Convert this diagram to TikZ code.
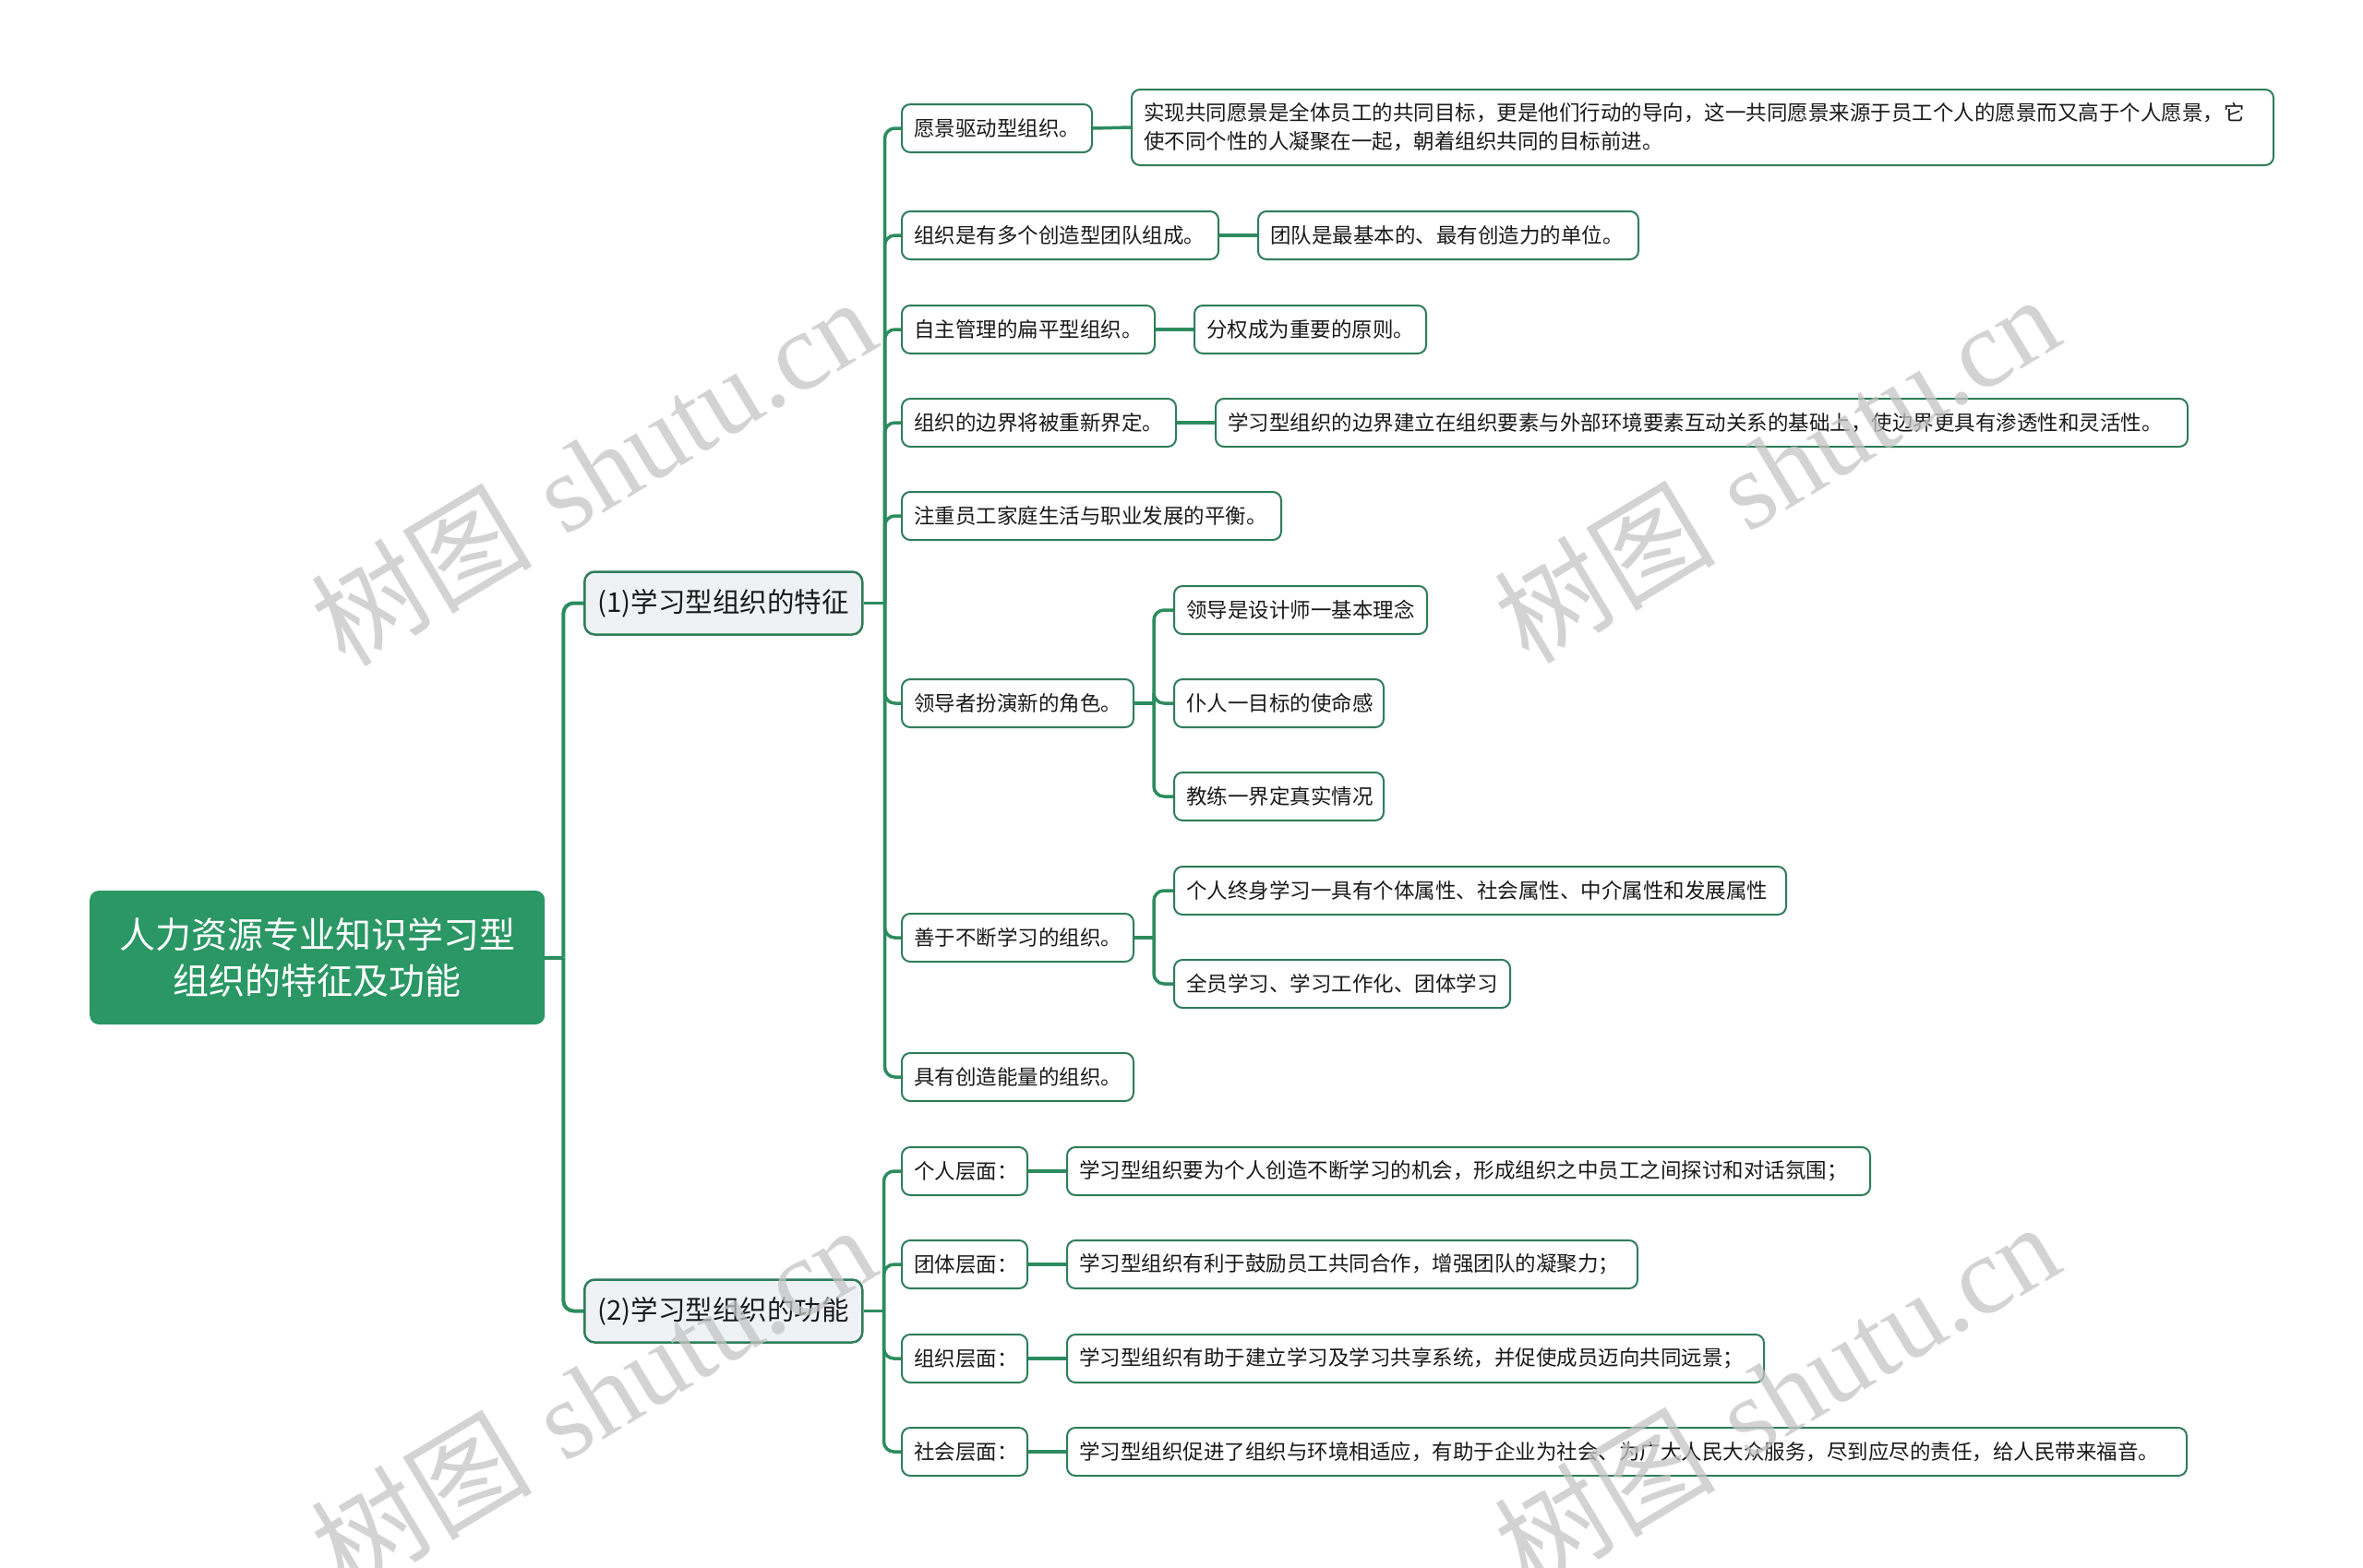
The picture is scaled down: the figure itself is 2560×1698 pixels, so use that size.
\documentclass[tikz,border=0pt]{standalone}
\usepackage{fontspec}
\newfontfamily\cjk{Noto Sans CJK SC}
\newfontfamily\wmserif{Liberation Serif}
\usetikzlibrary{calc}
\definecolor{rootc}{HTML}{2A9764}
\definecolor{linec}{HTML}{2C8C5F}
\definecolor{bordc}{HTML}{2F7D59}
\definecolor{lonefill}{HTML}{EEF2F5}
\definecolor{txtc}{HTML}{1A1A1A}
\definecolor{wmc}{HTML}{C4C4C4}
\newcommand\fixw[2]{\makebox[#1pt][l]{#2}}
\tikzset{
  box/.style={draw=bordc, line width=2pt, rounded corners=9pt, fill=white,
    font=\cjk\fontsize{22.5}{31}\selectfont, text=txtc, inner xsep=13pt,
    inner ysep=0pt, minimum height=52pt, anchor=west},
  lone/.style={draw=bordc, line width=2.5pt, rounded corners=11pt, fill=lonefill,
    font=\cjk\fontsize{29.5}{36}\selectfont, text=txtc, inner sep=0pt,
    minimum width=301pt, minimum height=68pt, anchor=west},
  rootbox/.style={fill=rootc, rounded corners=10pt, text=white, align=center,
    font=\cjk\fontsize{39}{50}\selectfont, inner sep=0pt,
    minimum width=493pt, minimum height=145pt, anchor=west},
  conn/.style={draw=linec, line width=3.5pt, rounded corners=11pt},
  wm/.style={text=wmc, opacity=0.75, font=\fontsize{120}{120}\selectfont, inner sep=0pt},
}
\begin{document}
\begin{tikzpicture}[x=1pt,y=-1pt]
\useasboundingbox (0,0) rectangle (2560,1698);

% root and level 1
\node[rootbox] (root) at (97,1037.5) {人力资源专业知识学习型\\组织的特征及功能};
\node[lone] (f) at (632,653.5) {(1)学习型组织的特征};
\node[lone] (g) at (632,1420.5) {(2)学习型组织的功能};

% level 2 under (1)
\node[box] (a1) at (976,139) {\fixw{180}{愿景驱动型组织。}};
\node[box] (a2) at (976,255) {\fixw{317}{组织是有多个创造型团队组成。}};
\node[box] (a3) at (976,357) {\fixw{248}{自主管理的扁平型组织。}};
\node[box] (a4) at (976,458) {\fixw{271}{组织的边界将被重新界定。}};
\node[box] (a5) at (976,559) {\fixw{385}{注重员工家庭生活与职业发展的平衡。}};
\node[box] (a6) at (976,762) {\fixw{225}{领导者扮演新的角色。}};
\node[box] (a7) at (976,1016) {\fixw{225}{善于不断学习的组织。}};
\node[box] (a8) at (976,1167) {\fixw{225}{具有创造能量的组织。}};

% level 3 under (1)
\node[box, minimum height=82pt, text width=1211pt, align=left] (b1) at (1225,138)
  {实现共同愿景是全体员工的共同目标，更是他们行动的导向，这一共同愿景来源于员工个人的愿景而又高于个人愿景，它\\使不同个性的人凝聚在一起，朝着组织共同的目标前进。};
\node[box] (b2) at (1362,255) {\fixw{386}{团队是最基本的、最有创造力的单位。}};
\node[box] (b3) at (1293,357) {\fixw{225}{分权成为重要的原则。}};
\node[box] (b4) at (1316,458) {\fixw{1027}{学习型组织的边界建立在组织要素与外部环境要素互动关系的基础上，使边界更具有渗透性和灵活性。}};
\node[box] (b6a) at (1271,661) {\fixw{248}{领导是设计师一基本理念}};
\node[box] (b6b) at (1271,762) {\fixw{201}{仆人一目标的使命感}};
\node[box] (b6c) at (1271,863) {\fixw{201}{教练一界定真实情况}};
\node[box] (b7a) at (1271,965) {\fixw{637}{个人终身学习一具有个体属性、社会属性、中介属性和发展属性}};
\node[box] (b7b) at (1271,1066) {\fixw{338}{全员学习、学习工作化、团体学习}};

% level 2 under (2)
\node[box] (c1) at (976,1269) {\fixw{110}{个人层面：}};
\node[box] (c2) at (976,1370) {\fixw{110}{团体层面：}};
\node[box] (c3) at (976,1472) {\fixw{110}{组织层面：}};
\node[box] (c4) at (976,1573) {\fixw{110}{社会层面：}};
\node[box] (d1) at (1155,1269) {\fixw{844}{学习型组织要为个人创造不断学习的机会，形成组织之中员工之间探讨和对话氛围；}};
\node[box] (d2) at (1155,1370) {\fixw{592}{学习型组织有利于鼓励员工共同合作，增强团队的凝聚力；}};
\node[box] (d3) at (1155,1472) {\fixw{729}{学习型组织有助于建立学习及学习共享系统，并促使成员迈向共同远景；}};
\node[box] (d4) at (1155,1573) {\fixw{1187}{学习型组织促进了组织与环境相适应，有助于企业为社会、为广大人民大众服务，尽到应尽的责任，给人民带来福音。}};

% connectors
\coordinate (t0) at ($(root.east)+(20,0)$);
\draw[conn, line width=4pt] (root.east) -- (t0);
\draw[conn, line width=4pt] (t0) |- (f.west);
\draw[conn, line width=4pt] (t0) |- (g.west);

\coordinate (t1) at ($(f.east)+(23,0)$);
\draw[conn] (f.east) -- (t1);
\foreach \n in {a1,a2,a3,a4,a5,a6,a7,a8} \draw[conn] (t1) |- (\n.west);

\draw[conn] (a1.east) -- (b1.west);
\draw[conn] (a2.east) -- (b2.west);
\draw[conn] (a3.east) -- (b3.west);
\draw[conn] (a4.east) -- (b4.west);

\coordinate (t6) at ($(a6.east)+(21,0)$);
\draw[conn] (a6.east) -- (t6);
\foreach \n in {b6a,b6b,b6c} \draw[conn] (t6) |- (\n.west);

\coordinate (t7) at ($(a7.east)+(21,0)$);
\draw[conn] (a7.east) -- (t7);
\foreach \n in {b7a,b7b} \draw[conn] (t7) |- (\n.west);

\coordinate (t2) at ($(g.east)+(22,0)$);
\draw[conn] (g.east) -- (t2);
\foreach \n in {c1,c2,c3,c4} \draw[conn] (t2) |- (\n.west);

\draw[conn] (c1.east) -- (d1.west);
\draw[conn] (c2.east) -- (d2.west);
\draw[conn] (c3.east) -- (d3.west);
\draw[conn] (c4.east) -- (d4.west);

% watermarks
\node[wm, rotate=31] (w1) at (642,510) {{\cjk 树图} {\wmserif shutu.cn}};
\node[wm, rotate=31] (w2) at (1924,507) {{\cjk 树图} {\wmserif shutu.cn}};
\node[wm, rotate=31] (w3) at (642,1514) {{\cjk 树图} {\wmserif shutu.cn}};
\node[wm, rotate=31] (w4) at (1924,1511) {{\cjk 树图} {\wmserif shutu.cn}};
\end{tikzpicture}
\end{document}
